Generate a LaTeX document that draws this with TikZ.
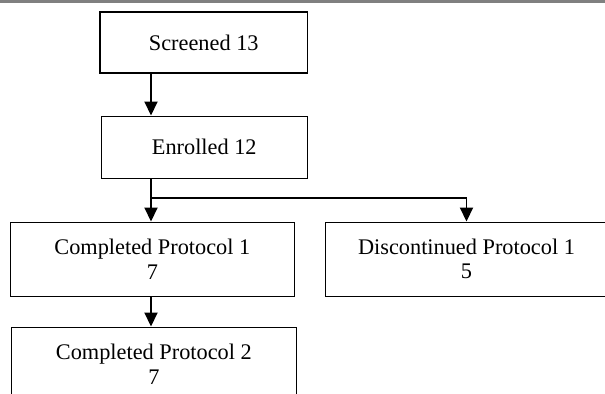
\documentclass[tikz,border=0pt]{standalone}
\usepackage{fontspec}
\setmainfont{Liberation Serif}
\usetikzlibrary{arrows.meta}

\tikzset{
  box/.style={draw, line width=0.55pt, align=center, inner sep=0pt,
    font=\fontsize{12.7}{14}\selectfont},
  flow/.style={line width=1.1pt, -{Triangle[length=0.28cm,width=0.26cm]}}
}

\begin{document}
\begin{tikzpicture}[x=0.02cm, y=-0.02cm]
  \useasboundingbox (0,0) rectangle (605,394);
  \fill[gray] (0,0) rectangle (605,3);
  % boxes
  \node[box, line width=1.1pt, minimum width=4.15cm, minimum height=1.22cm]
    (screened) at (203.75,42.5) {Screened 13};
  \node[box, minimum width=4.13cm, minimum height=1.24cm]
    (enrolled) at (204.25,147) {Enrolled 12};
  \node[box, minimum width=5.67cm, minimum height=1.48cm]
    (comp1) at (152.35,259) {Completed Protocol 1\\7};
  \node[box, minimum width=5.64cm, minimum height=1.48cm]
    (disc1) at (466.5,259) {Discontinued Protocol 1\\5};
  \node[box, minimum width=5.69cm, minimum height=1.48cm]
    (comp2) at (153.85,364) {Completed Protocol 2\\7};
  % connectors
  \coordinate (spine) at (151,0);
  \coordinate (split) at (151,198);
  \draw[flow] (screened.south -| spine) -- (enrolled.north -| spine);
  \draw[flow] (enrolled.south -| spine) -- (comp1.north -| spine);
  \draw[flow] (split) -| (disc1.north);
  \draw[flow] (comp1.south -| spine) -- (comp2.north -| spine);
\end{tikzpicture}
\end{document}
